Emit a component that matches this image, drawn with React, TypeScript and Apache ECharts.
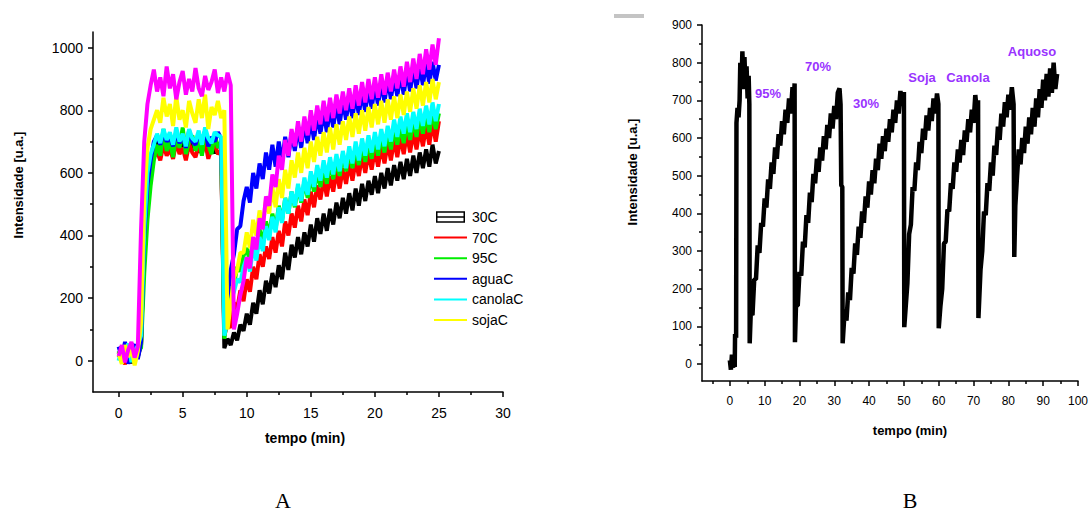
import React, { useEffect, useRef } from "react";
import * as echarts from "echarts";

// ---------- Chart A data (time in min, intensity in a.u.) ----------
const timeA = [
  0, 0.25, 0.5, 0.75, 1, 1.25, 1.5, 1.75,
  2, 2.25, 2.5, 2.75, 3, 3.25, 3.5, 3.75,
  4, 4.25, 4.5, 4.75, 5, 5.25, 5.5, 5.75,
  6, 6.25, 6.5, 6.75, 7, 7.25, 7.5, 7.75,
  8, 8.25, 8.5, 8.75, 9, 9.25, 9.5, 9.75,
  10, 10.25, 10.5, 10.75, 11, 11.25, 11.5, 11.75,
  12, 12.25, 12.5, 12.75, 13, 13.25, 13.5, 13.75,
  14, 14.25, 14.5, 14.75, 15, 15.25, 15.5, 15.75,
  16, 16.25, 16.5, 16.75, 17, 17.25, 17.5, 17.75,
  18, 18.25, 18.5, 18.75, 19, 19.25, 19.5, 19.75,
  20, 20.25, 20.5, 20.75, 21, 21.25, 21.5, 21.75,
  22, 22.25, 22.5, 22.75, 23, 23.25, 23.5, 23.75,
  24, 24.25, 24.5, 24.75, 25,
];

const s30C = [
  20, 45, 5, 38, -8, 30, 12, 50,
  400, 580, 650, 680, 705, 668, 712, 675,
  700, 662, 718, 680, 695, 660, 715, 672,
  705, 665, 690, 720, 670, 700, 662, 695,
  685, 40, 70, 50, 90, 65, 115, 95,
  150, 115, 185, 150, 225, 180, 255, 215,
  280, 235, 305, 260, 345, 290, 370, 330,
  395, 340, 410, 365, 435, 380, 455, 405,
  470, 415, 485, 435, 505, 455, 520, 470,
  535, 480, 550, 495, 565, 510, 575, 530,
  590, 535, 600, 550, 615, 560, 625, 575,
  635, 580, 645, 590, 655, 600, 665, 615,
  675, 620, 690, 630, 670,
];

const s70C = [
  10, 35, -12, 48, 22, 0, 40, 50,
  380, 540, 610, 650, 668, 640, 690, 655,
  675, 645, 700, 660, 680, 640, 692, 665,
  650, 688, 662, 700, 645, 678, 690, 660,
  672, 80, 120, 105, 185, 165, 225, 190,
  260, 220, 300, 260, 340, 300, 365, 325,
  395, 345, 415, 365, 445, 400, 470, 425,
  495, 445, 515, 465, 540, 490, 560, 515,
  580, 525, 590, 540, 605, 550, 615, 565,
  630, 575, 640, 590, 655, 600, 665, 610,
  675, 620, 685, 630, 695, 640, 705, 650,
  715, 660, 725, 665, 730, 675, 740, 685,
  750, 690, 760, 700, 765,
];

const s95C = [
  30, -5, 42, 15, 55, 8, 35, 40,
  280, 450, 560, 640, 690, 655, 740, 670,
  705, 650, 725, 680, 745, 660, 700, 720,
  670, 715, 655, 735, 690, 660, 725, 680,
  700, 70, 150, 225, 240, 300, 285, 335,
  360, 315, 390, 340, 420, 375, 445, 400,
  470, 420, 495, 445, 520, 470, 540, 490,
  555, 505, 575, 520, 590, 540, 605, 555,
  620, 565, 635, 580, 645, 590, 660, 605,
  670, 615, 680, 625, 690, 635, 700, 645,
  710, 655, 720, 665, 730, 675, 740, 690,
  750, 695, 760, 705, 770, 715, 780, 725,
  785, 730, 795, 740, 790,
];

const sAguaC = [
  45, 10, 60, -10, 38, 52, 5, 60,
  400, 560, 640, 700, 720, 690, 730, 700,
  715, 685, 730, 695, 720, 680, 735, 700,
  690, 725, 700, 735, 685, 715, 700, 730,
  710, 250, 200, 290, 340, 420, 430, 510,
  555, 505, 600, 550, 630, 580, 665, 610,
  690, 620, 700, 635, 715, 650, 730, 670,
  745, 680, 760, 695, 770, 705, 785, 725,
  795, 730, 805, 745, 820, 755, 830, 770,
  840, 775, 850, 785, 860, 795, 870, 805,
  880, 815, 890, 825, 900, 835, 905, 845,
  915, 850, 925, 860, 935, 870, 940, 880,
  950, 885, 955, 895, 945,
];

const sCanolaC = [
  0, 40, 18, 55, -5, 30, 48, 80,
  420, 600, 660, 690, 725, 695, 740, 705,
  730, 690, 745, 700, 725, 685, 740, 710,
  700, 735, 690, 745, 710, 695, 730, 720,
  715, 80, 130, 190, 220, 260, 250, 300,
  330, 285, 365, 320, 395, 350, 430, 385,
  460, 410, 490, 440, 520, 470, 540, 495,
  565, 510, 585, 530, 605, 555, 625, 575,
  640, 585, 650, 595, 660, 605, 670, 615,
  685, 630, 700, 640, 710, 655, 720, 665,
  730, 675, 740, 685, 750, 700, 770, 715,
  780, 725, 790, 730, 795, 740, 805, 750,
  815, 755, 825, 765, 820,
];

const sSojaC = [
  25, -10, 50, 12, 40, -15, 30, 120,
  520, 680, 740, 770, 800, 760, 840, 780,
  820, 750, 845, 770, 800, 745, 830, 790,
  760, 835, 775, 850, 740, 810, 785, 830,
  775, 800, 100, 180, 265, 290, 345, 345,
  410, 360, 450, 400, 480, 430, 515, 470,
  555, 490, 580, 520, 610, 550, 640, 585,
  665, 600, 680, 615, 700, 635, 715, 655,
  730, 665, 745, 675, 755, 690, 765, 705,
  780, 715, 790, 725, 800, 735, 810, 745,
  820, 755, 830, 760, 835, 770, 845, 775,
  850, 785, 860, 795, 870, 805, 880, 815,
  890, 825, 900, 835, 890,
];

// magenta trace (no legend entry in the original)
const sMagenta = [
  15, 50, -5, 35, 60, 10, 45, 420,
  700, 820, 880, 930, 860, 905, 845, 940,
  870, 915, 835, 890, 925, 850, 900, 860,
  935, 870, 845, 910, 865, 890, 930, 855,
  905, 860, 920, 880, 100, 150, 210, 255,
  330, 295, 395, 355, 455, 420, 525, 495,
  595, 555, 655, 610, 705, 655, 740, 685,
  765, 700, 780, 720, 800, 735, 815, 755,
  830, 765, 840, 775, 850, 790, 860, 800,
  870, 805, 880, 815, 890, 825, 900, 835,
  905, 840, 915, 850, 920, 860, 930, 870,
  940, 875, 955, 890, 965, 900, 980, 915,
  995, 930, 1010, 945, 1030,
];

const legendNamesA = ["30C", "70C", "95C", "aguaC", "canolaC", "sojaC"];
const xLabelsA = [0, 5, 10, 15, 20, 25, 30];
const xMinorA = [2.5, 7.5, 12.5, 17.5, 22.5, 27.5];
const yLabelsA = [0, 200, 400, 600, 800, 1000];
const yMinorA = [100, 300, 500, 700, 900];

// ---------- Chart B data: [time (min), intensity (a.u.)] ----------
const readingsB: [number, number][] = [
  [0, 10], [0.3, -15], [0.6, 25], [0.9, -10], [1.2, 20], [1.4, -8], [1.5, 80], [1.8, 70],
  [1.9, 640], [2.2, 680], [2.5, 655], [2.8, 700], [3.0, 800], [3.3, 730], [3.6, 830], [3.9, 745],
  [4.2, 815], [4.5, 730], [4.8, 790], [5.1, 705], [5.4, 765], [5.6, 690], [5.7, 55],
  [6.0, 135], [6.5, 130], [7.0, 225], [7.5, 225], [8.0, 315], [8.5, 295], [9.0, 375], [9.5, 365],
  [10.0, 440], [10.5, 415], [11.0, 490], [11.5, 465], [12.0, 535], [12.5, 505], [13.0, 575], [13.5, 545],
  [14.0, 610], [14.5, 580], [15.0, 645], [15.5, 610], [16.0, 675], [16.5, 640], [17.0, 705], [17.5, 665],
  [18.0, 735], [18.4, 700], [18.6, 745], [18.7, 58],
  [19.0, 155], [19.5, 155], [20.0, 245], [20.5, 235], [21.0, 325], [21.5, 310], [22.0, 395], [22.5, 375],
  [23.0, 455], [23.5, 430], [24.0, 505], [24.5, 480], [25.0, 545], [25.5, 510], [26.0, 575], [26.5, 540],
  [27.0, 605], [27.5, 570], [28.0, 635], [28.5, 600], [29.0, 665], [29.5, 625], [30.0, 685], [30.5, 650],
  [31.0, 720], [31.5, 732], [31.8, 690], [32.0, 475], [32.3, 470], [32.4, 55],
  [33.0, 145], [33.5, 115], [34.0, 190], [34.5, 170], [35.0, 255], [35.5, 240], [36.0, 320], [36.5, 290],
  [37.0, 365], [37.5, 335], [38.0, 405], [38.5, 375], [39.0, 445], [39.5, 415], [40.0, 485], [40.5, 450],
  [41.0, 515], [41.5, 480], [42.0, 545], [42.5, 515], [43.0, 585], [43.5, 545], [44.0, 605], [44.5, 565],
  [45.0, 625], [45.5, 590], [46.0, 650], [46.5, 615], [47.0, 675], [47.5, 640], [48.0, 700], [48.5, 665],
  [49.0, 725], [49.5, 685], [50.0, 722], [50.1, 98],
  [50.5, 150], [51.0, 215], [51.5, 345], [52.0, 370], [52.5, 470], [53.0, 460], [53.5, 535], [54.0, 515],
  [54.5, 590], [55.0, 560], [55.5, 625], [56.0, 595], [56.5, 660], [57.0, 620], [57.5, 680], [58.0, 645],
  [58.5, 705], [59.0, 665], [59.5, 718], [59.9, 690], [60.0, 95],
  [60.5, 155], [61.0, 200], [61.5, 320], [62.0, 325], [62.5, 410], [63.0, 405], [63.5, 480], [64.0, 465],
  [64.5, 535], [65.0, 510], [65.5, 570], [66.0, 535], [66.5, 595], [67.0, 555], [67.5, 620], [68.0, 590],
  [68.5, 650], [69.0, 615], [69.5, 675], [70.0, 640], [70.5, 714], [71.0, 665], [71.3, 700], [71.4, 122],
  [72.0, 250], [72.5, 300], [73.0, 405], [73.5, 395], [74.0, 480], [74.5, 460], [75.0, 535], [75.5, 500],
  [76.0, 580], [76.5, 555], [77.0, 630], [77.5, 595], [78.0, 665], [78.5, 630], [79.0, 695], [79.5, 655],
  [80.0, 715], [80.5, 675], [81.0, 735], [81.5, 690], [81.7, 284],
  [82.0, 420], [82.5, 500], [83.0, 570], [83.5, 530], [84.0, 600], [84.5, 560], [85.0, 630], [85.5, 585],
  [86.0, 655], [86.5, 610], [87.0, 680], [87.5, 630], [88.0, 705], [88.5, 655], [89.0, 730], [89.5, 680],
  [90.0, 755], [90.5, 700], [91.0, 770], [91.5, 710], [92.0, 785], [92.5, 720], [93.0, 800], [93.5, 730],
  [94.0, 770],
];

const xLabelsB = [0, 10, 20, 30, 40, 50, 60, 70, 80, 90, 100];
const xMinorB = [-5, 5, 15, 25, 35, 45, 55, 65, 75, 85, 95];
const yLabelsB = [0, 100, 200, 300, 400, 500, 600, 700, 800, 900];
const yMinorB = [50, 150, 250, 350, 450, 550, 650, 750, 850];

const annotationTextB = ["95%", "70%", "30%", "Soja", "Canola", "Aquoso"];

const FONT = "Liberation Sans";

export default function App() {
  const ref = useRef<HTMLDivElement>(null);

  useEffect(() => {
    if (!ref.current) return;
    const chart = echarts.init(ref.current, undefined, { renderer: "svg" });

    const axisLineStyle = { color: "#000", width: 1.5 };
    const plain = (v: number) => String(v);

    const mainX = (grid: number, min: number, max: number, labels: number[], fontSize: number) => ({
      type: "value",
      gridIndex: grid,
      position: "bottom",
      min,
      max,
      axisLine: { show: true, onZero: false, lineStyle: axisLineStyle },
      axisTick: { show: true, length: 5, customValues: labels, lineStyle: axisLineStyle },
      axisLabel: { customValues: labels, margin: 14, fontSize, color: "#000", fontFamily: FONT, formatter: plain },
      splitLine: { show: false },
    });
    const minorX = (grid: number, min: number, max: number, ticks: number[]) => ({
      type: "value",
      gridIndex: grid,
      position: "bottom",
      min,
      max,
      axisLine: { show: false, onZero: false },
      axisTick: { show: true, length: 3, customValues: ticks, lineStyle: axisLineStyle },
      axisLabel: { show: false },
      splitLine: { show: false },
    });
    const mainY = (grid: number, min: number, max: number, labels: number[], fontSize: number) => ({
      type: "value",
      gridIndex: grid,
      position: "left",
      min,
      max,
      axisLine: { show: true, onZero: false, lineStyle: axisLineStyle },
      axisTick: { show: true, length: 5, customValues: labels, lineStyle: axisLineStyle },
      axisLabel: { customValues: labels, margin: 10, fontSize, color: "#000", fontFamily: FONT, formatter: plain },
      splitLine: { show: false },
    });
    const minorY = (grid: number, min: number, max: number, ticks: number[]) => ({
      type: "value",
      gridIndex: grid,
      position: "left",
      min,
      max,
      axisLine: { show: false, onZero: false },
      axisTick: { show: true, length: 3, customValues: ticks, lineStyle: axisLineStyle },
      axisLabel: { show: false },
      splitLine: { show: false },
    });

    const seriesDefsA = [
      { name: "30C", values: s30C, color: "#000000" },
      { name: "70C", values: s70C, color: "#ff0000" },
      { name: "95C", values: s95C, color: "#00ee00" },
      { name: "aguaC", values: sAguaC, color: "#0000ff" },
      { name: "canolaC", values: sCanolaC, color: "#00ffff" },
      { name: "sojaC", values: sSojaC, color: "#ffff00" },
      { name: "magentaC", values: sMagenta, color: "#ff00ff" },
    ];

    const seriesA = seriesDefsA.map((d) => ({
      type: "line",
      name: d.name,
      xAxisIndex: 0,
      yAxisIndex: 0,
      symbol: "none",
      color: d.color,
      lineStyle: { color: d.color, width: 4 },
      data: timeA.map((t, i) => [t, d.values[i]]),
    }));

    const annotationPos: [number, number][] = [
      [768, 93], [818, 66], [866, 103], [922, 77], [968, 77], [1032, 51],
    ];

    const option: any = {
      animation: false,
      backgroundColor: "#ffffff",
      textStyle: { fontFamily: FONT },
      grid: [
        { left: 93, top: 32, width: 410, height: 360 },
        { left: 702, top: 25, width: 377, height: 356 },
      ],
      xAxis: [
        mainX(0, -2, 30, xLabelsA, 14),
        minorX(0, -2, 30, xMinorA),
        mainX(1, -8, 100, xLabelsB, 12),
        minorX(1, -8, 100, xMinorB),
      ],
      yAxis: [
        mainY(0, -100, 1050, yLabelsA, 14),
        minorY(0, -100, 1050, yMinorA),
        mainY(1, -45, 900, yLabelsB, 12),
        minorY(1, -45, 900, yMinorB),
      ],
      legend: {
        left: 428,
        top: 205,
        orient: "vertical",
        itemWidth: 33,
        itemHeight: 10,
        itemGap: 6.6,
        textStyle: { fontSize: 14, color: "#000", lineHeight: 14, fontFamily: FONT },
        itemStyle: { opacity: 0 },
        lineStyle: { width: 2 },
        data: legendNamesA.map((n) =>
          n === "30C"
            ? {
                name: n,
                icon: "path://M0 0H33V12H0ZM0 6H33",
                itemStyle: { color: "#ffffff", borderColor: "#000000", borderWidth: 1.5, opacity: 1 },
              }
            : n
        ),
      },
      series: [
        ...seriesA,
        {
          type: "line",
          name: "B",
          xAxisIndex: 2,
          yAxisIndex: 2,
          symbol: "none",
          color: "#000",
          lineStyle: { color: "#000", width: 4.5 },
          data: readingsB,
        },
      ],
      graphic: [
        {
          type: "text",
          x: 18,
          y: 185,
          rotation: Math.PI / 2,
          style: { text: "Intensidade [u.a.]", fontSize: 13, fontWeight: "bold", fontFamily: FONT, fill: "#000", align: "center", verticalAlign: "middle" },
        },
        {
          type: "text",
          x: 305,
          y: 438,
          style: { text: "tempo (min)", fontSize: 14, fontWeight: "bold", fontFamily: FONT, fill: "#000", align: "center", verticalAlign: "middle" },
        },
        {
          type: "text",
          x: 632,
          y: 172,
          rotation: Math.PI / 2,
          style: { text: "Intensidade [u.a.]", fontSize: 13, fontWeight: "bold", fontFamily: FONT, fill: "#000", align: "center", verticalAlign: "middle" },
        },
        {
          type: "text",
          x: 910,
          y: 430,
          style: { text: "tempo (min)", fontSize: 13, fontWeight: "bold", fontFamily: FONT, fill: "#000", align: "center", verticalAlign: "middle" },
        },
        {
          type: "text",
          x: 283,
          y: 500,
          style: { text: "A", fontSize: 22, fontFamily: "Liberation Serif", fill: "#000", align: "center", verticalAlign: "middle" },
        },
        {
          type: "text",
          x: 910,
          y: 500,
          style: { text: "B", fontSize: 22, fontFamily: "Liberation Serif", fill: "#000", align: "center", verticalAlign: "middle" },
        },
        {
          type: "rect",
          shape: { x: 614, y: 14, width: 30, height: 4 },
          style: { fill: "#c4c4c4" },
        },
        ...annotationTextB.map((txt, i) => ({
          type: "text",
          x: annotationPos[i][0],
          y: annotationPos[i][1],
          style: { text: txt, fontSize: 13, fontWeight: "bold", fontFamily: FONT, fill: "#9933ff", align: "center", verticalAlign: "middle" },
        })),
      ],
    };

    chart.setOption(option);
    return () => chart.dispose();
  }, []);

  return (
    <div
      ref={ref}
      style={{ position: "fixed", left: 0, top: 0, width: 1091, height: 512, background: "#fff" }}
    />
  );
}
